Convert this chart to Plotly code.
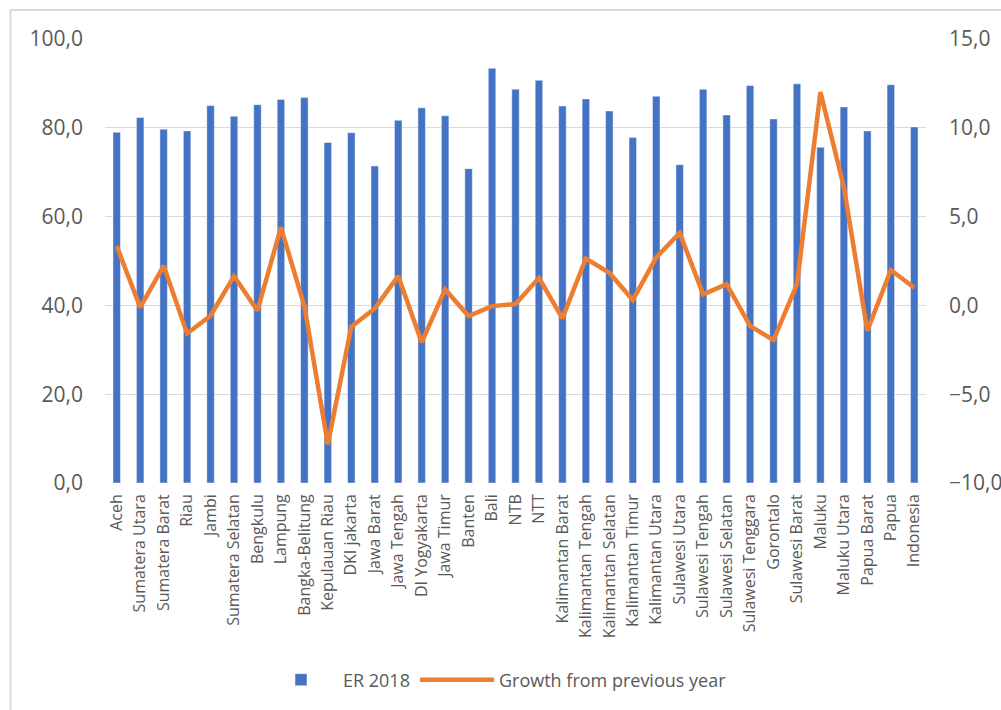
import plotly.graph_objects as go

categories = ["Aceh", "Sumatera Utara", "Sumatera Barat", "Riau", "Jambi", "Sumatera Selatan",
              "Bengkulu", "Lampung", "Bangka-Belitung", "Kepulauan Riau", "DKI jakarta",
              "Jawa Barat", "Jawa Tengah", "DI Yogyakarta", "Jawa Timur", "Banten", "Bali",
              "NTB", "NTT", "Kalimantan Barat", "Kalimantan Tengah", "Kalimantan Selatan",
              "Kalimantan Timur", "Kalimantan Utara", "Sulawesi Utara", "Sulawesi Tengah",
              "Sulawesi Selatan", "Sulawesi Tenggara", "Gorontalo", "Sulawesi Barat", "Maluku",
              "Maluku Utara", "Papua Barat", "Papua", "Indonesia"]

er_2018 = [79.0, 82.3, 79.7, 79.3, 85.0, 82.6, 85.2, 86.4, 86.8, 76.7, 78.9, 71.4, 81.7, 84.5,
           82.7, 70.8, 93.4, 88.7, 90.7, 84.9, 86.5, 83.8, 77.8, 87.1, 71.7, 88.7, 82.9, 89.5,
           82.0, 89.9, 75.6, 84.7, 79.3, 89.7, 80.2]

growth = [3.34, -0.11, 2.23, -1.58, -0.58, 1.65, -0.30, 4.39, -0.04, -7.82, -1.20, -0.17, 1.65,
          -2.08, 0.90, -0.60, -0.04, 0.07, 1.55, -0.73, 2.64, 1.84, 0.30, 2.70, 4.08, 0.62, 1.20,
          -1.15, -1.95, 1.20, 12.01, 6.65, -1.43, 1.99, 0.99]

W, H = 1001, 710
L, R, T, B = 105, 75, 39, 227
pw, ph = W - L - R, H - T - B

def px_x(p):
    return (p - L) / pw

def px_y(p):
    return (H - B - p) / ph

fig = go.Figure()
fig.add_trace(go.Bar(
    x=categories, y=er_2018, name="ER 2018",
    marker=dict(color="#4472C4", line=dict(color="rgba(255,255,255,0.45)", width=1)),
    yaxis="y",
))
fig.add_trace(go.Scatter(
    x=categories, y=growth, name="Growth from previous year", mode="lines",
    line=dict(color="#ED7D31", width=4.5), yaxis="y2",
))

tick_font = dict(family="Open Sans", size=21, color="#595959")

fig.update_layout(
    width=W, height=H,
    margin=dict(l=L, r=R, t=T, b=B, autoexpand=False),
    paper_bgcolor="white", plot_bgcolor="white",
    separators=",.",
    bargap=0.68,
    showlegend=True,
    legend=dict(orientation="h", x=px_x(259), xanchor="left", y=px_y(680), yanchor="middle",
                font=dict(family="Open Sans", size=18, color="#595959"),
                itemwidth=74, traceorder="normal"),
    xaxis=dict(
        type="category", showgrid=False, zeroline=False, showline=False,
        tickangle=-90, tickfont=dict(family="Open Sans", size=16, color="#595959"),
        ticks="", ticklabelstandoff=7, range=[-0.5, len(categories) - 0.5],
    ),
    yaxis=dict(
        range=[0, 100], dtick=20, tickformat=".1f", showgrid=True,
        gridcolor="#D9D9D9", gridwidth=1.3, zeroline=False, showline=False,
        ticks="", tickfont=tick_font, ticklabelstandoff=21,
    ),
    yaxis2=dict(
        range=[-10, 15], dtick=5, tickformat=".1f", overlaying="y", side="right",
        showgrid=False, zeroline=False, showline=False, ticks="",
        tickfont=tick_font, ticklabelstandoff=22,
    ),
    shapes=[
        dict(type="line", xref="paper", yref="paper", x0=px_x(10.5), x1=px_x(1001),
             y0=px_y(10), y1=px_y(10), line=dict(color="#D9D9D9", width=2), layer="below"),
        dict(type="line", xref="paper", yref="paper", x0=px_x(10.5), x1=px_x(10.5),
             y0=px_y(10), y1=px_y(710), line=dict(color="#D9D9D9", width=2), layer="below"),
    ],
)

fig.write_html("out.html")
